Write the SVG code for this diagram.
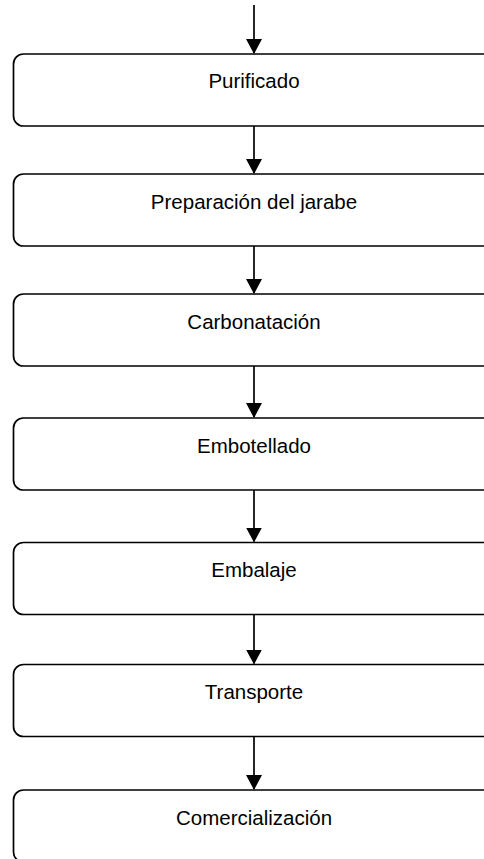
<svg xmlns="http://www.w3.org/2000/svg" width="484" height="859" viewBox="0 0 484 859">
<style>
.box{fill:#fff;stroke:#000;stroke-width:1.7}
.lbl{font-family:"Liberation Sans",Arial,sans-serif;font-size:20.5px;fill:#000;text-anchor:middle}
.con{stroke:#000;stroke-width:1.7;fill:none}
</style>
<defs>
<marker id="ah" markerUnits="userSpaceOnUse" markerWidth="15" markerHeight="16" refX="14" refY="8" orient="auto" viewBox="0 0 15 16">
<path d="M0,0 L15,8 L0,16 Z" fill="#000"/>
</marker>
</defs>
<rect width="484" height="859" fill="#fff"/>
<g id="connectors">
<line class="con" x1="254" y1="5" x2="254" y2="53" marker-end="url(#ah)"/>
<line class="con" x1="254" y1="126" x2="254" y2="173" marker-end="url(#ah)"/>
<line class="con" x1="254" y1="246" x2="254" y2="293" marker-end="url(#ah)"/>
<line class="con" x1="254" y1="366" x2="254" y2="417" marker-end="url(#ah)"/>
<line class="con" x1="254" y1="490" x2="254" y2="541.5" marker-end="url(#ah)"/>
<line class="con" x1="254" y1="614.5" x2="254" y2="663.5" marker-end="url(#ah)"/>
<line class="con" x1="254" y1="736.5" x2="254" y2="789" marker-end="url(#ah)"/>
</g>
<g id="n1"><rect class="box" x="13.5" y="54" width="482" height="72" rx="10"/><text class="lbl" x="254" y="87.5">Purificado</text></g>
<g id="n2"><rect class="box" x="13.5" y="174" width="482" height="72" rx="10"/><text class="lbl" x="254" y="208.5">Preparación del jarabe</text></g>
<g id="n3"><rect class="box" x="13.5" y="294" width="482" height="72" rx="10"/><text class="lbl" x="254" y="328.5">Carbonatación</text></g>
<g id="n4"><rect class="box" x="13.5" y="418" width="482" height="72" rx="10"/><text class="lbl" x="254" y="452.5">Embotellado</text></g>
<g id="n5"><rect class="box" x="13.5" y="542.5" width="482" height="72" rx="10"/><text class="lbl" x="254" y="577">Embalaje</text></g>
<g id="n6"><rect class="box" x="13.5" y="664.5" width="482" height="72" rx="10"/><text class="lbl" x="254" y="699">Transporte</text></g>
<g id="n7"><rect class="box" x="13.5" y="790" width="482" height="72" rx="10"/><text class="lbl" x="254" y="824.5">Comercialización</text></g>
</svg>
